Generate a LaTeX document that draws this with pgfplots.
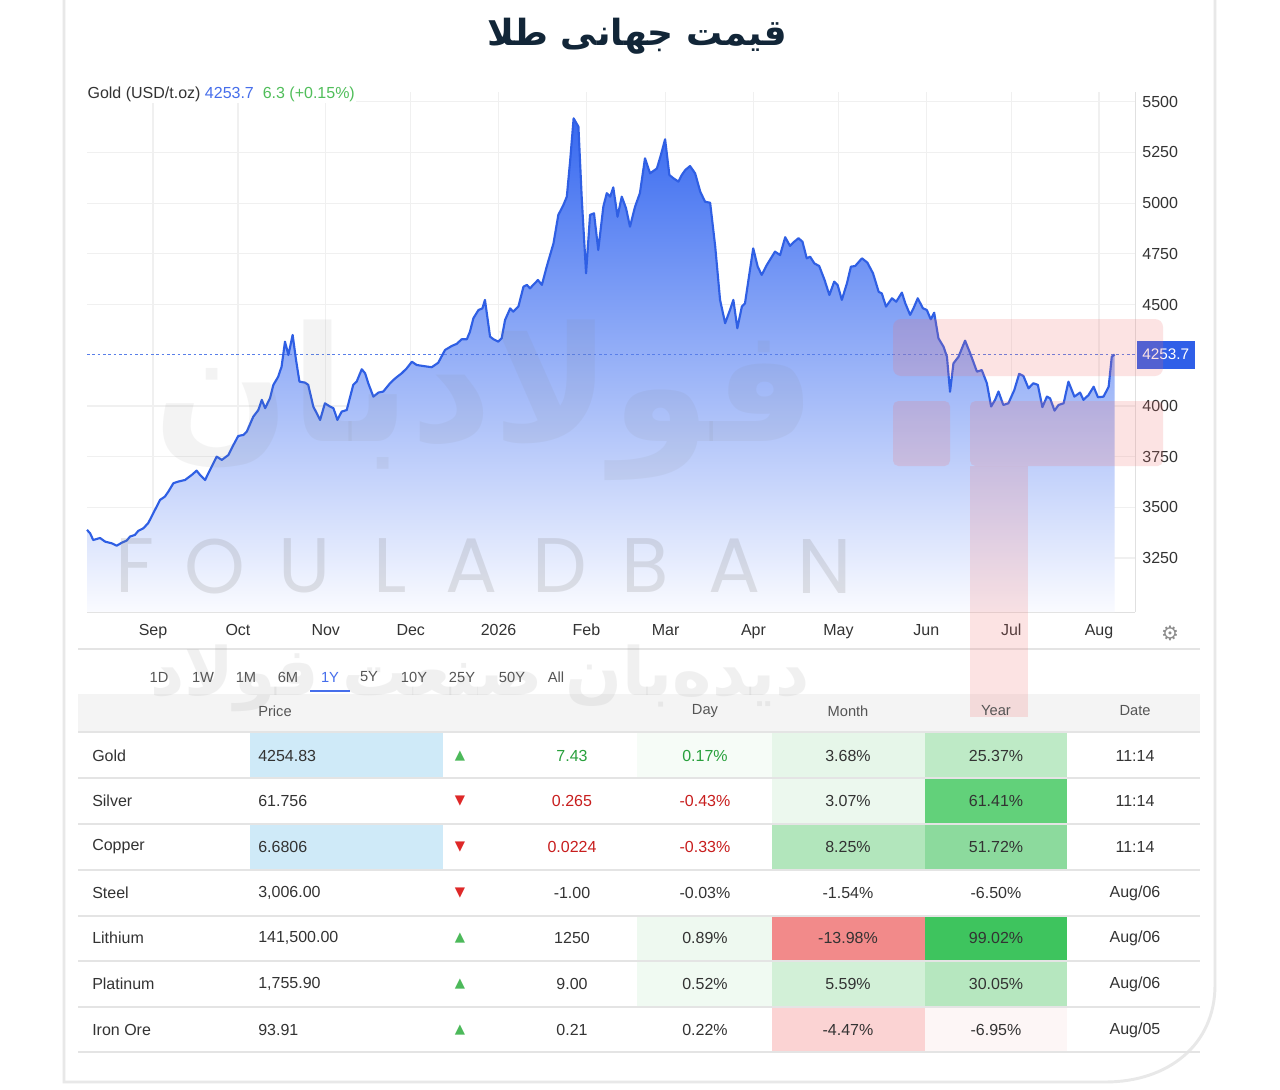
\documentclass[border=0pt]{standalone}
\usepackage{fontspec}
\usepackage{pgfplots}
\usepackage{pgfplotstable}
\pgfplotsset{compat=1.18}
\setmainfont{Liberation Sans}
\newfontfamily\fa[Script=Arabic]{DejaVu Sans}
\newfontfamily\sym{DejaVu Sans}
\newfontfamily\wm{Poppins}
\TeXXeTstate=1

\definecolor{lineblue}{RGB}{47,95,228}
\definecolor{fillTop}{RGB}{55,105,240}
\definecolor{fillMid}{RGB}{128,160,246}
\definecolor{fillBot}{RGB}{250,251,255}
\definecolor{gridc}{RGB}{240,240,240}
\definecolor{txt}{RGB}{51,51,51}
\definecolor{subtxt}{RGB}{85,85,85}
\definecolor{titlec}{RGB}{18,38,56}
\definecolor{upg}{RGB}{76,185,90}
\definecolor{dnr}{RGB}{222,40,40}
\definecolor{chgG}{RGB}{40,160,60}
\definecolor{chgR}{RGB}{200,30,30}
\definecolor{hdrblue}{RGB}{70,110,235}
\definecolor{hdrgreen}{RGB}{80,190,90}
\definecolor{tagblue}{RGB}{47,95,232}
\definecolor{pblue}{RGB}{207,234,248}
\definecolor{sep}{RGB}{228,228,228}
\definecolor{hdrband}{RGB}{244,244,244}
\definecolor{pinklogo}{RGB}{240,110,110}
% heat-map shades for the change columns
\definecolor{gA}{RGB}{246,252,247}
\definecolor{gB}{RGB}{230,246,233}
\definecolor{gC}{RGB}{190,234,198}
\definecolor{gD}{RGB}{236,248,238}
\definecolor{gE}{RGB}{98,209,122}
\definecolor{gF}{RGB}{178,230,188}
\definecolor{gG}{RGB}{140,218,157}
\definecolor{gH}{RGB}{238,249,240}
\definecolor{rA}{RGB}{242,138,138}
\definecolor{gI}{RGB}{62,196,94}
\definecolor{gJ}{RGB}{240,250,242}
\definecolor{gK}{RGB}{210,240,215}
\definecolor{gL}{RGB}{182,231,191}
\definecolor{rB}{RGB}{251,211,211}
\definecolor{rC}{RGB}{253,246,246}

% Gold spot price, USD per troy ounce; x = days since 1 Aug 2025
\pgfplotstableread{
day price
7.7 3389
8.8 3372
9.9 3339
12.3 3349
14.1 3331
16.4 3323
18.2 3311
20.0 3326
21.7 3336
22.9 3356
24.6 3364
25.8 3384
27.6 3397
29.3 3422
31.1 3471
33.5 3537
35.2 3553
36.4 3577
38.2 3619
39.9 3627
42.3 3635
44.7 3660
46.4 3681
47.6 3660
49.4 3635
51.1 3684
53.5 3750
55.3 3734
57.6 3758
59.4 3808
61.1 3852
62.9 3857
64.1 3873
66.4 3947
68.2 3980
69.4 4030
70.6 3989
72.3 4038
73.5 4104
75.2 4144
76.4 4194
77.6 4317
78.8 4251
80.3 4350
81.5 4227
82.7 4120
84.7 4115
85.8 4104
87.6 3997
90.0 3931
91.7 4013
93.5 3997
94.7 3989
96.1 3931
97.6 3972
99.4 3980
101.7 4104
102.9 4120
104.7 4181
105.9 4161
107.0 4112
108.8 4046
110.6 4066
112.3 4071
114.7 4112
116.5 4136
118.8 4161
120.6 4186
122.4 4218
124.1 4202
126.4 4197
129.4 4191
131.7 4213
134.1 4276
136.5 4296
138.2 4306
140.0 4329
141.8 4329
142.9 4366
144.1 4432
145.9 4473
147.3 4481
148.2 4523
150.0 4342
151.2 4329
152.9 4317
154.1 4334
155.3 4424
157.1 4481
158.2 4465
160.0 4490
161.8 4588
163.0 4597
164.1 4580
166.9 4621
168.3 4597
170.0 4687
172.4 4802
174.1 4942
175.9 4991
177.1 5032
178.3 5213
179.5 5418
181.2 5377
182.4 5016
183.9 4654
185.3 4942
186.7 4950
188.2 4769
190.0 4983
191.2 5049
192.4 5032
193.5 5078
195.0 4933
196.5 5032
198.0 4975
199.4 4884
201.2 4983
202.9 5049
204.7 5221
206.5 5147
208.9 5171
210.3 5237
211.8 5315
213.3 5139
214.7 5123
216.5 5106
217.7 5139
218.9 5163
220.6 5183
222.4 5147
224.2 5057
225.9 5007
227.7 5002
229.5 4785
231.2 4523
233.0 4408
234.7 4473
235.9 4523
237.3 4383
238.9 4490
240.0 4506
241.4 4637
242.9 4777
244.5 4687
245.9 4646
247.7 4695
249.5 4736
250.6 4761
252.4 4744
254.2 4832
255.9 4789
257.4 4810
258.9 4827
260.3 4810
261.8 4728
263.0 4736
264.5 4703
266.2 4690
268.1 4621
269.8 4547
271.5 4613
272.7 4597
274.2 4523
276.0 4605
277.4 4687
278.9 4690
281.3 4728
283.2 4707
285.2 4654
287.2 4563
288.3 4555
289.8 4490
291.9 4531
293.4 4514
295.4 4559
296.6 4506
298.3 4449
299.5 4482
301.0 4531
302.8 4482
304.2 4473
305.6 4427
306.8 4460
308.3 4334
310.1 4292
311.3 4243
312.4 4070
313.6 4210
315.4 4243
317.7 4322
319.5 4260
321.9 4169
323.6 4177
325.4 4112
326.9 3997
328.3 4030
329.5 4071
331.2 4005
333.0 4013
335.1 4079
336.8 4158
338.3 4148
340.1 4087
341.8 4112
343.4 4104
345.0 3994
346.6 4046
347.7 4038
349.3 3977
350.7 4005
352.5 4013
354.2 4120
356.3 4046
358.3 4066
359.5 4030
361.3 4054
363.1 4095
364.6 4043
366.6 4046
368.4 4095
369.5 4243
370.5 4253.7
}\goldtable

\newcommand{\tsz}{\fontsize{12}{14}\selectfont}
\newcommand{\ssz}{\fontsize{11}{13}\selectfont}

% one row of the quotes table: y, name, price, arrow, change, day, month, year, date
\newcommand{\qrow}[9]{%
  \node[anchor=west,text=txt,inner xsep=0pt] at (92,#1) {\tsz #2};
  \node[anchor=west,text=txt,inner xsep=0pt] at (258,#1) {\tsz #3};
  \node at (460,#1) {#4};
  \node at (572,#1) {\tsz #5};
  \node at (705,#1) {\tsz #6};
  \node[text=txt] at (848,#1) {\tsz #7};
  \node[text=txt] at (996,#1) {\tsz #8};
  \node[text=txt] at (1135,#1) {\tsz #9};
}
\newcommand{\up}{{\sym\fontsize{10}{10}\selectfont\color{upg}▲}}
\newcommand{\dn}{{\sym\fontsize{10}{10}\selectfont\color{dnr}▼}}

\begin{document}
\begin{tikzpicture}
\begin{scope}[x=0.75pt,y=-0.75pt]
  \path[use as bounding box] (0,0) rectangle (1280,1089);
  \fill[white] (0,0) rectangle (1280,1089);
  % card outline
  \draw[black!9,line width=2.2pt] (64,-5) -- (64,1082) -- (1105,1082)
     .. controls (1168,1082) and (1215,1045) .. (1215,985) -- (1215,-5);
\end{scope}

\begin{axis}[
  at={(65.25pt,-459pt)}, anchor=south west,
  scale only axis, width=786pt, height=390.3pt,
  xmin=7.7, xmax=377.7, ymin=2984, ymax=5550,
  axis x line*=bottom, axis y line*=right,
  axis line style={draw=black!12,-},
  xtick={31,61,92,122,153,184,212,243,273,304,334,365},
  xticklabels={Sep,Oct,Nov,Dec,2026,Feb,Mar,Apr,May,Jun,Jul,Aug},
  ytick={3250,3500,3750,4000,4500,4750,5000,5250,5500},
  grid=major, major grid style={draw=gridc,line width=0.9pt},
  tick style={draw=none},
  ticklabel style={font=\tsz, text=txt},
  xticklabel style={yshift=-6pt, text height=1.6ex, text depth=0.4ex},
  yticklabel style={xshift=2pt},
  /pgf/number format/assume math mode=true,
  /pgf/number format/1000 sep={},
  clip=false,
]
  \addplot[draw=none, top color=fillTop, middle color=fillMid, bottom color=fillBot]
     table[x=day,y=price] {\goldtable} \closedcycle;
  \addplot[draw=lineblue!80!white, line width=0.6pt, dash pattern=on 2pt off 2pt]
     coordinates {(7.7,4253.7) (377.7,4253.7)};
  \addplot[lineblue, line width=1.6pt, line join=round, mark=none]
     table[x=day,y=price] {\goldtable};
  \node[anchor=west, fill=tagblue, text=white, inner xsep=4pt, minimum height=21pt, font=\fontsize{11.5}{13}\selectfont]
     at (axis cs:378.3,4253.7) {4253.7};
\end{axis}

\begin{scope}[x=0.75pt,y=-0.75pt]
  % selector rule and table header band
  \draw[sep, line width=1pt] (78,649) -- (1200,649);
  \fill[hdrband] (78,694) rectangle (1200,732);

  % watermark
  \foreach \c/\xx in {F/135,O/215,U/305,L/390,A/472,D/560,B/645,A/735,N/825}
    \node[text=black!50, opacity=0.2] at (\xx,566) {\wm\fontsize{58}{58}\selectfont \c};
  \node[text=black!50, opacity=0.09] at (485,400) {\fa\bfseries\fontsize{120}{120}\selectfont\beginR فولادبان\endR};
  \node[text=black!40, opacity=0.14] at (480,678) {\fa\bfseries\fontsize{50}{50}\selectfont\beginR دیده‌بان صنعت فولاد\endR};
  \fill[pinklogo, opacity=0.19, rounded corners=6pt] (893,319) rectangle (1163,376);
  \fill[pinklogo, opacity=0.19, rounded corners=4pt] (893,401) rectangle (950,466);
  \fill[pinklogo, opacity=0.19, rounded corners=4pt] (970,401) rectangle (1163,466);
  \fill[pinklogo, opacity=0.19] (970,466) rectangle (1028,717);

  % title
  \node[text=titlec] at (637,36) {\fa\bfseries\fontsize{27}{30}\selectfont\beginR قیمت جهانی طلا\endR};
  % chart header
  \node[anchor=west, fill=white, inner sep=1pt] at (86,94)
     {\tsz\color{txt}Gold (USD/t.oz) \color{hdrblue}4253.7 \ \color{hdrgreen}6.3 (+0.15\%)};
  \node[text=black!45] at (1170,633) {\sym\fontsize{15}{15}\selectfont ⚙};

  % range selector
  \foreach \lab/\xx in {1D/159,1W/203,1M/246,6M/288,5Y/369,10Y/414,25Y/462,50Y/512,All/556}
    \node[text=subtxt] at (\xx,677) {\ssz \lab};
  \node[text=hdrblue] at (330,677) {\ssz 1Y};
  \draw[hdrblue, line width=2.2pt] (310,691) -- (350,691);

  % table header
  \node[anchor=west,text=subtxt,inner xsep=0pt] at (258,711) {\ssz Price};
  \node[text=subtxt] at (705,711) {\ssz Day};
  \node[text=subtxt] at (848,711) {\ssz Month};
  \node[text=subtxt] at (996,711) {\ssz Year};
  \node[text=subtxt] at (1135,711) {\ssz Date};

  % cell shading
  \fill[pblue] (250,733) rectangle (443,777);
  \fill[pblue] (250,825) rectangle (443,869);
  \fill[gA] (637,733) rectangle (772,777);
  \fill[gB] (772,733) rectangle (925,777);
  \fill[gC] (925,733) rectangle (1067,777);
  \fill[gD] (772,779) rectangle (925,823);
  \fill[gE] (925,779) rectangle (1067,823);
  \fill[gF] (772,825) rectangle (925,869);
  \fill[gG] (925,825) rectangle (1067,869);
  \fill[gH] (637,917) rectangle (772,960);
  \fill[rA] (772,917) rectangle (925,960);
  \fill[gI] (925,917) rectangle (1067,960);
  \fill[gJ] (637,962) rectangle (772,1006);
  \fill[gK] (772,962) rectangle (925,1006);
  \fill[gL] (925,962) rectangle (1067,1006);
  \fill[rB] (772,1008) rectangle (925,1051);
  \fill[rC] (925,1008) rectangle (1067,1051);

  % row rules
  \foreach \yy in {732,778,824,870,916,961,1007,1052}
    \draw[sep, line width=1.1pt] (78,\yy) -- (1200,\yy);

  \qrow{756}{Gold}{4254.83}{\up}{\color{chgG}7.43}{\color{chgG}0.17\%}{3.68\%}{25.37\%}{11:14}
  \qrow{801}{Silver}{61.756}{\dn}{\color{chgR}0.265}{\color{chgR}-0.43\%}{3.07\%}{61.41\%}{11:14}
  \qrow{847}{Copper}{6.6806}{\dn}{\color{chgR}0.0224}{\color{chgR}-0.33\%}{8.25\%}{51.72\%}{11:14}
  \qrow{893}{Steel}{3,006.00}{\dn}{\color{txt}-1.00}{\color{txt}-0.03\%}{-1.54\%}{-6.50\%}{Aug/06}
  \qrow{938}{Lithium}{141,500.00}{\up}{\color{txt}1250}{\color{txt}0.89\%}{-13.98\%}{99.02\%}{Aug/06}
  \qrow{984}{Platinum}{1,755.90}{\up}{\color{txt}9.00}{\color{txt}0.52\%}{5.59\%}{30.05\%}{Aug/06}
  \qrow{1030}{Iron Ore}{93.91}{\up}{\color{txt}0.21}{\color{txt}0.22\%}{-4.47\%}{-6.95\%}{Aug/05}
\end{scope}
\end{tikzpicture}
\end{document}
